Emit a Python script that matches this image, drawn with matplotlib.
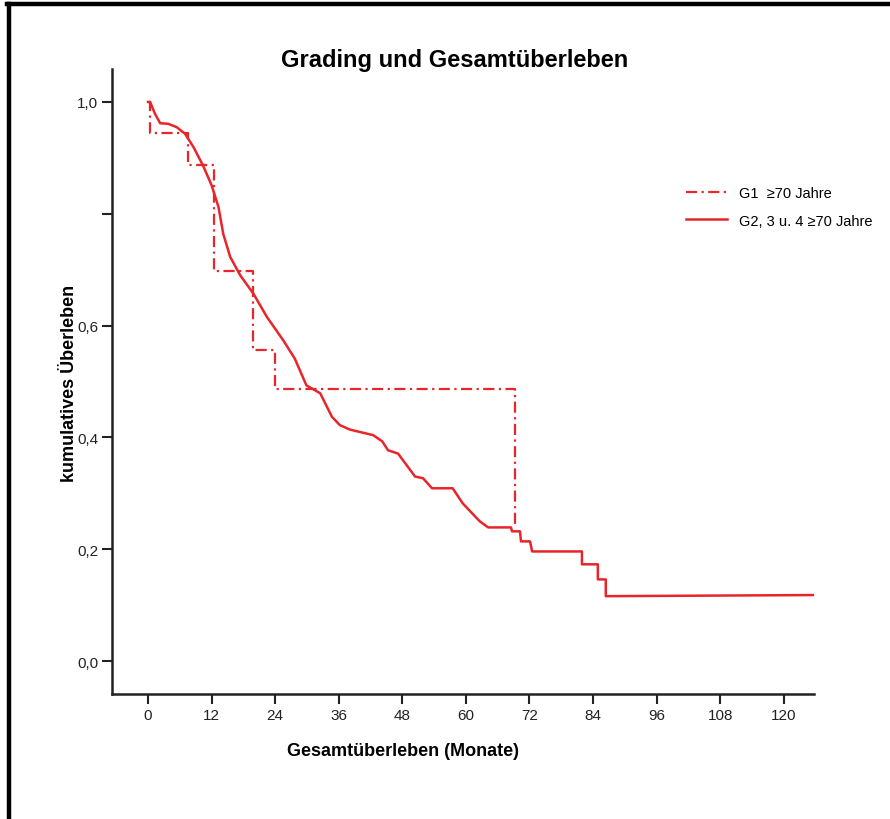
import numpy as np
import matplotlib.pyplot as plt
from matplotlib.lines import Line2D

plt.rcParams['font.family'] = ['Liberation Sans', 'DejaVu Sans']

# G1 >=70 Jahre (Stufenkurve)
g1_monate = [0, 0.4, 0.4, 7.5, 7.5, 12.5, 12.5, 19.75, 19.75, 24.0, 24.0, 69.2, 69.2]
g1_surv = [1.0, 1.0, 0.944, 0.944, 0.888, 0.888, 0.697, 0.697, 0.557, 0.557, 0.487, 0.487, 0.243]

# G2, 3 u. 4 >=70 Jahre
g2_monate = [0, 0.4, 1.3, 2.3, 3.8, 5.4, 7.0, 8.6, 10.4, 12.0, 13.3, 14.2, 15.5, 17.4,
             19.9, 22.4, 25.5, 27.7, 29.9, 32.5, 34.7, 36.2, 38.1, 42.5, 44.2, 45.3,
             47.2, 50.4, 51.9, 53.6, 57.5, 59.4, 62.6, 64.2, 68.5, 68.7, 70.2, 70.4,
             72.1, 72.5, 81.9, 81.9, 84.9, 84.9, 86.4, 86.4, 125.5]
g2_surv = [1.0, 1.0, 0.979, 0.962, 0.961, 0.955, 0.943, 0.919, 0.886, 0.851, 0.812,
           0.764, 0.723, 0.690, 0.657, 0.616, 0.574, 0.541, 0.493, 0.479, 0.437,
           0.422, 0.414, 0.404, 0.393, 0.377, 0.371, 0.330, 0.327, 0.309, 0.309,
           0.282, 0.250, 0.239, 0.239, 0.232, 0.232, 0.214, 0.214, 0.196, 0.196,
           0.173, 0.173, 0.146, 0.146, 0.116, 0.118]

x_ticks = [0, 12, 24, 36, 48, 60, 72, 84, 96, 108, 120]
y_ticks = [0.0, 0.2, 0.4, 0.6, 0.8, 1.0]
y_labels = ['0,0', '0,2', '0,4', '0,6', '', '1,0']

rot = '#e8252b'

fig = plt.figure(figsize=(8.9, 8.2), dpi=100)
ax = fig.add_axes([112/890, 1-695/820, (814-112)/890, (695-70)/820])

ax.plot(g1_monate, g1_surv, color=rot, lw=1.6, linestyle=(0, (5, 2, 1, 2)))
ax.plot(g2_monate, g2_surv, color=rot, lw=1.8, solid_joinstyle='round')

ax.set_xlim(-6.8, 125.7)
ax.set_ylim(-0.059, 1.059)
ax.set_xticks(x_ticks)
ax.set_xticklabels([str(t) for t in x_ticks])
ax.set_yticks(y_ticks)
ax.set_yticklabels(y_labels)
ax.tick_params(direction='out', length=7, width=1.5, labelsize=11, colors='#222222', pad=3)

for s in ['top', 'right']:
    ax.spines[s].set_visible(False)
for s in ['left', 'bottom']:
    ax.spines[s].set_linewidth(1.8)
    ax.spines[s].set_color('#222222')

fig.text(455/890, 1-60/820, 'Grading und Gesamtüberleben', ha='center', va='center',
         fontsize=17, fontweight='bold')
fig.text(403/890, 1-752/820, 'Gesamtüberleben (Monate)', ha='center', va='center',
         fontsize=13, fontweight='bold')
fig.text(70/890, 1-383/820, 'kumulatives Überleben', ha='center', va='center',
         fontsize=13, fontweight='bold', rotation=90)

handles = [Line2D([], [], color=rot, lw=1.6, linestyle=(0, (5, 2, 1, 2))),
           Line2D([], [], color=rot, lw=1.8)]
fig.legend(handles, ['G1  ≥70 Jahre', 'G2, 3 u. 4 ≥70 Jahre'],
           loc='center left', bbox_to_anchor=(673/890, 1-208/820), frameon=False,
           fontsize=10.5, handlelength=2.8, handletextpad=0.8, labelspacing=0.9)

# schwarzer Rahmen oben und links
fig.add_artist(Line2D([8.5/890, 8.5/890], [0, 1-4.5/820], color='black', lw=3.2,
                      transform=fig.transFigure))
fig.add_artist(Line2D([7/890, 1], [1-4.5/820, 1-4.5/820], color='black', lw=3.2,
                      transform=fig.transFigure))

fig.savefig('out.png', dpi=100)
